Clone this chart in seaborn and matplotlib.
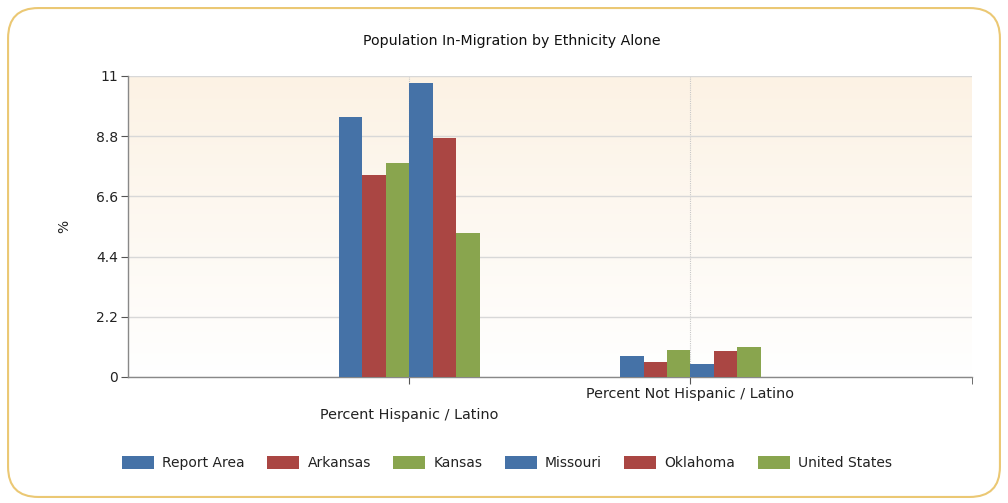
import numpy as np
import pandas as pd
import matplotlib
matplotlib.use("Agg")
import matplotlib.pyplot as plt
from matplotlib.patches import FancyBboxPatch, Patch
from matplotlib.colors import LinearSegmentedColormap
import seaborn as sns

categories = ["Percent Hispanic / Latino", "Percent Not Hispanic / Latino"]
series = ["Report Area", "Arkansas", "Kansas", "Missouri", "Oklahoma", "United States"]
report_area = [9.51, 0.78]
arkansas = [7.38, 0.56]
kansas = [7.81, 1.00]
missouri = [10.76, 0.46]
oklahoma = [8.72, 0.94]
united_states = [5.25, 1.10]
y_ticks = [0, 2.2, 4.4, 6.6, 8.8, 11]
y_tick_labels = ["0", "2.2", "4.4", "6.6", "8.8", "11"]

values = [report_area, arkansas, kansas, missouri, oklahoma, united_states]
rows = []
for s, vals in zip(series, values):
    for c, v in zip(categories, vals):
        rows.append({"Category": c, "Series": s, "Value": v})
df = pd.DataFrame(rows)

blue, red, green = "#4572A7", "#AA4643", "#89A54E"
palette = dict(zip(series, [blue, red, green, blue, red, green]))

sns.set_style("white")
plt.rcParams["font.family"] = ["DejaVu Sans"]

fig = plt.figure(figsize=(10.08, 5.03), dpi=100)
fig.patch.set_facecolor("white")

# rounded card border
card = FancyBboxPatch((0.008, 0.012), 0.984, 0.972, boxstyle="round,pad=0,rounding_size=0.03",
                      transform=fig.transFigure, facecolor="white", edgecolor="#EBC874",
                      linewidth=1.5, zorder=-10, mutation_aspect=2.0)
fig.patches.append(card)

ax = fig.add_axes([0.127, 0.2505, 0.837, 0.5985])
ax.set_facecolor("none")

# gradient background
grad = np.linspace(0, 1, 256).reshape(-1, 1)
cmap = LinearSegmentedColormap.from_list("bg", ["#FFFFFF", "#FCF2E4"])
ax.imshow(grad, aspect="auto", cmap=cmap, origin="lower", extent=[0, 1, 0, 1],
          transform=ax.transAxes, zorder=-5)

sns.barplot(data=df, x="Category", y="Value", hue="Series", hue_order=series,
            order=categories, palette=palette, width=0.5, saturation=1,
            edgecolor="none", linewidth=0, ax=ax, zorder=3, errorbar=None)

ax.set_xlim(-1, 2)
ax.set_ylim(0, 11)
ax.set_yticks(y_ticks)
ax.set_yticklabels(y_tick_labels)

ax.yaxis.grid(True, color="#D8D8D8", linewidth=1, zorder=1)
ax.xaxis.grid(True, color="#C8C8C8", linewidth=0.8, linestyle=(0, (1, 1)), zorder=1)
ax.set_axisbelow(True)

for side in ["top", "right"]:
    ax.spines[side].set_visible(False)
ax.spines["left"].set_color("#888888")
ax.spines["bottom"].set_color("#888888")
ax.spines["left"].set_linewidth(1)
ax.spines["bottom"].set_linewidth(1)

ax.tick_params(axis="y", which="major", direction="out", length=5, color="#555555",
               labelsize=10, labelcolor="#222222", pad=2, left=True)
ax.tick_params(axis="x", which="major", direction="out", length=5, color="#555555",
               labelsize=10.4, labelcolor="#222222", bottom=True)
ax.set_xticks([2], minor=True)
ax.tick_params(axis="x", which="minor", direction="out", length=5, color="#555555", bottom=True)

ticks = ax.xaxis.get_major_ticks()
ticks[0].set_pad(17)
ticks[1].set_pad(2)

ax.set_xlabel("")
ax.set_ylabel("%", fontsize=10, color="#222222", labelpad=18)

fig.suptitle("Population In-Migration by Ethnicity Alone", fontsize=10.2, color="#111111",
             x=0.508, y=0.918, va="center")

if ax.get_legend() is not None:
    ax.get_legend().remove()
handles = [Patch(facecolor=palette[s], edgecolor="none") for s in series]
fig.legend(handles, series, loc="center", bbox_to_anchor=(0.503, 0.079), ncol=6,
           frameon=False, fontsize=10, handlelength=2.3, handleheight=1.0,
           columnspacing=1.6, handletextpad=0.6, labelcolor="#222222")

fig.savefig("out.png", dpi=100)
